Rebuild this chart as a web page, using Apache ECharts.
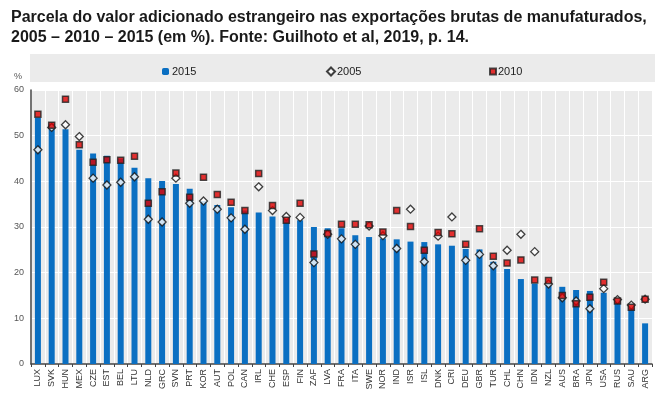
<!DOCTYPE html>
<html><head><meta charset="utf-8">
<script src="https://cdn.jsdelivr.net/npm/echarts@6/dist/echarts.min.js"></script>
<style>html,body{margin:0;padding:0;background:#fff}#c{width:672px;height:396px}</style>
</head><body><div id="c"></div>
<script>
const countries = ['LUX','SVK','HUN','MEX','CZE','EST','BEL','LTU','NLD','GRC','SVN','PRT','KOR','AUT','POL','CAN','IRL','CHE','ESP','FIN','ZAF','LVA','FRA','ITA','SWE','NOR','IND','ISR','ISL','DNK','CRI','DEU','GBR','TUR','CHL','CHN','IDN','NZL','AUS','BRA','JPN','USA','RUS','SAU','ARG'];
const v2015 = [53.9,52.6,51.4,46.9,46.1,45.6,45.0,43.0,40.7,40.1,39.4,38.4,35.7,34.8,34.3,33.6,33.2,32.3,31.9,31.5,30.0,29.7,29.7,28.2,27.8,27.5,27.3,26.8,26.7,26.2,25.9,25.2,25.1,22.4,20.8,18.6,17.6,17.5,16.9,16.2,16.0,15.6,14.1,12.3,8.9];
const v2005 = [46.9,51.8,52.4,49.8,40.7,39.2,39.8,41.0,31.7,31.1,40.7,35.2,35.7,33.9,32.0,29.5,38.8,33.6,32.3,32.1,22.2,28.4,27.4,26.2,30.2,28.1,25.3,33.9,22.4,28.0,32.2,22.7,24.0,21.5,24.9,28.4,24.6,17.5,14.5,13.8,12.1,16.5,14.1,12.9,14.2];
const v2010 = [54.7,52.3,58.0,48.0,44.2,44.7,44.6,45.5,35.2,37.7,41.8,36.5,40.9,37.1,35.4,33.6,41.7,34.7,31.5,35.2,24.1,28.6,30.6,30.6,30.5,28.9,33.6,30.1,24.9,28.8,28.5,26.2,29.6,23.6,22.1,22.8,18.4,18.3,15.0,13.2,14.6,17.9,13.8,12.4,14.2];
const yTicks = [0,10,20,30,40,50,60];

const chart = echarts.init(document.getElementById('c'), null, {renderer:'canvas'});
const font = 'Liberation Sans, Arial, sans-serif';
chart.setOption({
  animation:false,
  textStyle:{fontFamily:font},
  title:{
    text:'Parcela do valor adicionado estrangeiro nas exportações brutas de manufaturados,\n2005 – 2010 – 2015 (em %). Fonte: Guilhoto et al, 2019, p. 14.',
    left:6, top:3,
    textStyle:{fontFamily:font, fontSize:16, fontWeight:'bold', color:'#1a1a1a', lineHeight:20}
  },
  graphic:[
    {type:'rect', left:30, top:54, shape:{width:625, height:28}, style:{fill:'#ebebeb'}, z:-1},
    {type:'text', left:14, top:72, style:{text:'%', fill:'#555', font:'9px '+font}}
  ],
  legend:[
    {data:['2015'], left:157, top:61, itemWidth:7, itemHeight:7, itemGap:4, textStyle:{fontSize:11, color:'#222', fontFamily:font, padding:[0,0,0,-2]}},
    {data:['2005'], left:321, top:61, itemWidth:8, itemHeight:8, textStyle:{fontSize:11, color:'#222', fontFamily:font, padding:[0,0,0,-3]}},
    {data:['2010'], left:484, top:61, itemWidth:6, itemHeight:6, textStyle:{fontSize:11, color:'#222', fontFamily:font, padding:[0,0,0,-3]}}
  ],
  grid:{left:31, right:20, top:90, bottom:32, show:true, backgroundColor:'#ebebeb', borderWidth:0},
  xAxis:{
    type:'category', data:countries, boundaryGap:true,
    axisLine:{show:true, lineStyle:{color:'#444', width:1.5}},
    axisTick:{show:true, length:3, lineStyle:{color:'#444'}},
    axisLabel:{rotate:90, fontSize:9, color:'#333', margin:5, interval:0},
    splitLine:{show:true, lineStyle:{color:'#ffffff', width:1}}
  },
  yAxis:{
    type:'value', min:0, max:60, interval:10,
    axisLine:{show:true, lineStyle:{color:'#444', width:1.5}},
    axisTick:{show:false},
    axisLabel:{fontSize:9, color:'#555', margin:7, formatter:function(v){return yTicks.indexOf(v)>=0?String(v):'';}},
    splitLine:{show:true, lineStyle:{color:'#ffffff', width:1}}
  },
  series:[
    {name:'2015', type:'bar', data:v2015, barWidth:6, itemStyle:{color:'#0a6fc2'}, z:2},
    {name:'2005', type:'scatter', data:v2005, symbol:'diamond', symbolSize:8,
     itemStyle:{color:'#ffffff', borderColor:'#111', borderWidth:1.3}, z:3},
    {name:'2010', type:'scatter', data:v2010, symbol:'rect', symbolSize:6,
     itemStyle:{color:'#e00000', borderColor:'#222', borderWidth:1.5}, z:4}
  ]
});
</script></body></html>
